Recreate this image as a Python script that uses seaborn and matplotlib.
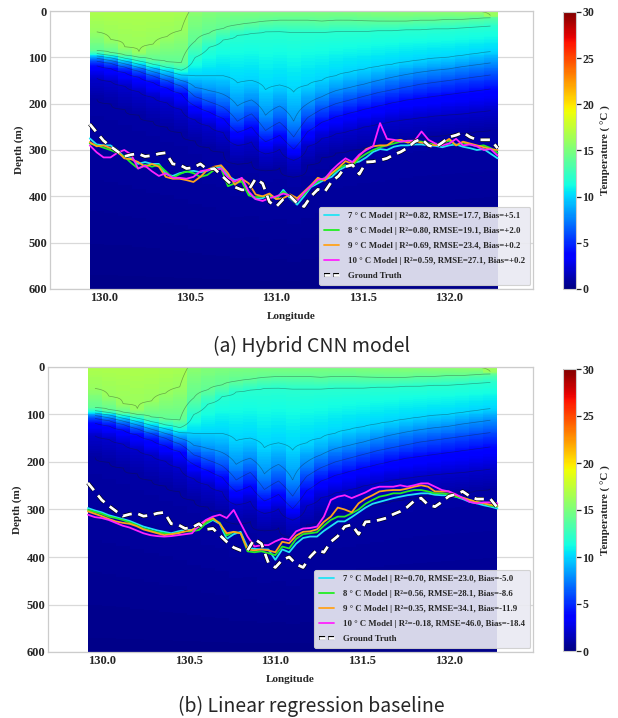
import numpy as np
import matplotlib
matplotlib.use("Agg")
import matplotlib.pyplot as plt
import matplotlib.patheffects as pe
from matplotlib.lines import Line2D
import seaborn as sns

# ---------------------------------------------------------------- data
# Longitudes of the profile positions along the section
lon = np.round(np.arange(129.92, 132.2801, 0.04), 2)

# Observed depth of the isotherm (m)
truth = [244, 262, 280, 292, 303, 314, 310, 308, 314, 312,
         308, 306, 330, 332, 340, 338, 330, 342, 340, 354,
         368, 380, 386, 386, 362, 372, 412, 422, 406, 400,
         415, 422, 400, 385, 390, 368, 356, 336, 332, 352,
         326, 325, 322, 318, 310, 304, 295, 282, 276, 290,
         294, 284, 272, 268, 262, 272, 278, 278, 278, 296]

# (a) Hybrid CNN predictions
cnn_7 = [275, 288, 290, 290, 300, 316, 318, 330, 326, 330,
         330, 352, 356, 350, 347, 345, 348, 345, 340, 336,
         356, 365, 362, 394, 406, 404, 396, 406, 386, 405,
         418, 400, 380, 372, 364, 358, 344, 336, 328, 325,
         316, 304, 298, 300, 293, 290, 290, 288, 288, 290,
         291, 294, 290, 288, 293, 296, 300, 298, 308, 318]
cnn_8 = [286, 290, 295, 300, 306, 314, 328, 340, 332, 336,
         332, 346, 360, 352, 346, 350, 358, 354, 343, 340,
         378, 372, 368, 398, 402, 400, 400, 404, 390, 400,
         408, 396, 378, 368, 360, 352, 340, 332, 334, 318,
         308, 300, 294, 290, 286, 282, 282, 280, 282, 286,
         288, 285, 280, 290, 284, 288, 292, 290, 296, 306]
cnn_9 = [283, 292, 290, 296, 303, 318, 320, 326, 336, 330,
         336, 358, 362, 362, 365, 369, 358, 343, 336, 333,
         350, 375, 362, 372, 396, 400, 394, 406, 404, 396,
         404, 390, 376, 360, 366, 350, 338, 324, 330, 312,
         298, 292, 290, 290, 280, 278, 284, 282, 284, 288,
         290, 286, 276, 290, 282, 286, 290, 294, 298, 300]
cnn_10 = [290, 305, 316, 316, 306, 300, 310, 340, 334, 346,
          356, 350, 360, 360, 362, 358, 346, 343, 343, 340,
          360, 368, 360, 390, 406, 410, 404, 400, 394, 398,
          410, 392, 378, 364, 362, 344, 330, 318, 326, 310,
          300, 292, 242, 276, 278, 282, 280, 280, 260, 278,
          286, 290, 286, 276, 290, 288, 292, 300, 298, 312]

# (b) Linear regression predictions
lr_7 = [297, 302, 306, 312, 316, 320, 324, 330, 336, 340,
        344, 347, 350, 346, 343, 343, 336, 330, 322, 330,
        362, 352, 347, 380, 383, 384, 384, 406, 384, 390,
        372, 360, 357, 357, 345, 335, 325, 325, 316, 306,
        296, 288, 284, 280, 276, 273, 270, 268, 266, 266,
        269, 270, 270, 273, 278, 284, 287, 291, 294, 298]
lr_8 = [301, 305, 309, 315, 318, 322, 327, 333, 340, 344,
        348, 350, 352, 349, 346, 346, 343, 329, 320, 328,
        355, 347, 350, 388, 390, 388, 392, 396, 378, 382,
        362, 352, 350, 348, 334, 322, 315, 315, 308, 300,
        288, 280, 273, 270, 266, 266, 262, 259, 259, 262,
        266, 266, 268, 273, 276, 280, 284, 287, 292, 294]
lr_9 = [304, 309, 314, 320, 325, 328, 330, 335, 342, 346,
        350, 354, 352, 350, 346, 343, 336, 324, 318, 330,
        350, 347, 350, 384, 386, 384, 386, 390, 368, 371,
        355, 347, 346, 342, 326, 315, 296, 300, 306, 287,
        277, 270, 262, 260, 259, 259, 256, 252, 249, 252,
        262, 262, 262, 270, 275, 280, 284, 287, 290, 292]
lr_10 = [311, 316, 318, 322, 328, 334, 338, 344, 350, 354,
         356, 357, 356, 354, 352, 350, 333, 322, 315, 311,
         318, 301, 329, 357, 378, 375, 375, 367, 361, 364,
         346, 340, 339, 336, 315, 280, 273, 270, 276, 270,
         264, 256, 252, 252, 252, 249, 252, 249, 245, 245,
         252, 259, 262, 268, 276, 284, 287, 285, 285, 287]

legend_cnn = ["7 ° C Model | R²=0.82, RMSE=17.7, Bias=+5.1",
              "8 ° C Model | R²=0.80, RMSE=19.1, Bias=+2.0",
              "9 ° C Model | R²=0.69, RMSE=23.4, Bias=+0.2",
              "10 ° C Model | R²=0.59, RMSE=27.1, Bias=+0.2"]
legend_lr = ["7 ° C Model | R²=0.70, RMSE=23.0, Bias=-5.0",
             "8 ° C Model | R²=0.56, RMSE=28.1, Bias=-8.6",
             "9 ° C Model | R²=0.35, RMSE=34.1, Bias=-11.9",
             "10 ° C Model | R²=-0.18, RMSE=46.0, Bias=-18.4"]
model_colors = ["#22e4f4", "#22ee22", "#ffa21c", "#ff22ff"]

# Temperature section: surface value and isotherm depths (m) at each CTD cast
sst = [16.8, 16.8, 16.8, 16.8, 16.8, 16.7, 16.6, 15.6, 15.3, 15.1,
       15.0, 15.0, 15.0, 15.0, 15.0, 15.0, 15.0, 15.0, 15.1, 15.2,
       15.3, 15.4, 15.5, 15.5, 15.6, 15.7, 15.8, 16.0, 16.3]
iso_levels = [16, 14, 12, 10, 8, 6, 4, 2, 1]
nan = np.nan
iso16 = [45, 62, 78, 88, 72, 55, 42, nan, nan, nan, nan, nan, nan, nan, nan,
         nan, nan, nan, nan, nan, nan, nan, nan, nan, nan, nan, nan, nan, 10]
iso14 = [85, 90, 95, 100, 105, 110, 112, 65, 48, 38, 30, 26, 22, 20, 20,
         20, 22, 20, 20, 21, 22, 22, 22, 20, 20, 18, 18, 16, 14]
iso12 = [92, 96, 102, 108, 115, 122, 128, 100, 78, 62, 52, 48, 45, 44, 46,
         46, 46, 44, 44, 44, 42, 42, 40, 40, 38, 38, 36, 34, 32]
iso10 = [97, 101, 108, 115, 123, 130, 138, 140, 140, 140, 155, 150, 170, 160, 175,
         160, 150, 140, 132, 126, 120, 115, 110, 106, 102, 100, 96, 92, 88]
iso8 = [102, 107, 114, 122, 131, 140, 150, 165, 172, 180, 205, 192, 225, 205, 238,
        200, 185, 172, 165, 158, 150, 143, 137, 132, 128, 125, 120, 116, 112]
iso6 = [108, 113, 121, 130, 140, 150, 162, 185, 196, 208, 238, 222, 258, 240, 272,
        230, 212, 200, 192, 184, 176, 170, 164, 158, 154, 150, 146, 142, 138]
iso4 = [118, 124, 133, 143, 154, 166, 178, 205, 218, 232, 262, 250, 282, 268, 298,
        260, 240, 228, 220, 212, 205, 198, 192, 188, 184, 180, 176, 172, 168]
iso2 = [145, 152, 162, 174, 186, 198, 212, 235, 248, 262, 290, 282, 308, 298, 322,
        292, 275, 265, 258, 250, 244, 238, 234, 230, 227, 224, 222, 218, 215]
iso1 = [190, 200, 212, 225, 238, 250, 262, 280, 295, 305, 330, 325, 345, 338, 358,
        332, 316, 306, 300, 294, 288, 282, 277, 273, 270, 267, 264, 260, 257]
bottom_temp = 0.3

# ---------------------------------------------------------------- field
iso_table = np.array([iso16, iso14, iso12, iso10, iso8, iso6, iso4, iso2, iso1], dtype=float)
cast_edges = np.linspace(lon[0], lon[-1], len(sst) + 1)
cast_lon = 0.5 * (cast_edges[:-1] + cast_edges[1:])
depth_edges = np.arange(0, 602, 2.0)
depth_mid = 0.5 * (depth_edges[:-1] + depth_edges[1:])

temp = np.empty((depth_mid.size, len(sst)))
for j, t0 in enumerate(sst):
    zs, ts = [0.0], [t0]
    for lev, d in zip(iso_levels, iso_table[:, j]):
        if np.isfinite(d) and lev < t0:
            zs.append(d)
            ts.append(lev)
    zs.append(600.0)
    ts.append(bottom_temp)
    temp[:, j] = np.interp(depth_mid, zs, ts)

# ---------------------------------------------------------------- style
sns.set_theme(style="whitegrid")
plt.rcParams["font.family"] = ["Liberation Serif", "DejaVu Serif"]
plt.rcParams["font.weight"] = "bold"
plt.rcParams["axes.labelweight"] = "bold"

fig = plt.figure(figsize=(6.18, 7.18), dpi=100)
W, H = 618.0, 718.0


def box(l, t, r, b):
    return [l / W, 1 - b / H, (r - l) / W, (b - t) / H]


panels = [
    dict(ax=box(50, 11, 533, 289), cax=box(563, 12, 576, 289),
         series=[cnn_7, cnn_8, cnn_9, cnn_10], labels=legend_cnn,
         caption="(a) Hybrid CNN model", cap_y=1 - 346 / H),
    dict(ax=box(48, 367, 533, 652), cax=box(563, 369, 576, 651),
         series=[lr_7, lr_8, lr_9, lr_10], labels=legend_lr,
         caption="(b) Linear regression baseline", cap_y=1 - 706 / H),
]

truth_effects = [pe.Stroke(linewidth=2.9, foreground="black"), pe.Normal()]

for p in panels:
    ax = fig.add_axes(p["ax"])
    cax = fig.add_axes(p["cax"])
    ax.set_axisbelow(True)
    ax.grid(axis="x", visible=False)
    ax.grid(axis="y", color="#d9d9d9", linewidth=0.9)

    mesh = ax.pcolormesh(cast_edges, depth_edges, temp, cmap="jet",
                         vmin=0, vmax=30, shading="flat", zorder=1)
    ax.contour(cast_lon, depth_mid, temp, levels=iso_levels[::-1],
               colors="k", linewidths=0.5, alpha=0.38, zorder=2)

    for vals, lab, col in zip(p["series"], p["labels"], model_colors):
        sns.lineplot(x=lon, y=vals, ax=ax, color=col, linewidth=1.3,
                     label=lab, sort=False, estimator=None, zorder=4)
    sns.lineplot(x=lon, y=truth, ax=ax, color="white", linewidth=2.0,
                 linestyle=(0, (3.4, 2.4)), label="Ground Truth",
                 sort=False, estimator=None, zorder=5,
                 path_effects=truth_effects)

    ax.set_xlim(129.69, 132.485)
    ax.set_ylim(600, 0)
    ax.set_xticks([130.0, 130.5, 131.0, 131.5, 132.0])
    ax.set_yticks(range(0, 601, 100))
    ax.tick_params(labelsize=9, pad=2, length=0)
    for t in ax.get_xticklabels() + ax.get_yticklabels():
        t.set_fontweight("bold")
    ax.set_xlabel("Longitude", fontsize=8, fontweight="bold", labelpad=6)
    ax.set_ylabel("Depth (m)", fontsize=8, fontweight="bold", labelpad=3)
    for s in ax.spines.values():
        s.set_color("#cccccc")
        s.set_linewidth(0.9)

    handles, labels = ax.get_legend_handles_labels()
    handles[-1] = Line2D([], [], color="white", linewidth=2.0,
                         linestyle=(0, (2.2, 1.1)), path_effects=truth_effects)
    leg = ax.legend(handles, labels, loc="lower right", bbox_to_anchor=(0.998, 0.008),
                    prop=dict(family=["Liberation Serif", "DejaVu Serif"], weight="bold", size=6.3),
                    frameon=True, fancybox=True, framealpha=0.92, facecolor="#eaeaf2",
                    edgecolor="#cfcfcf", borderpad=0.55, labelspacing=0.78,
                    handlelength=1.7, handletextpad=1.1, borderaxespad=0.2)
    leg.get_frame().set_linewidth(0.8)

    cb = fig.colorbar(mesh, cax=cax, ticks=range(0, 31, 5))
    cb.outline.set_edgecolor("#cccccc")
    cb.outline.set_linewidth(0.8)
    cax.tick_params(length=3.5, width=0.9, color="#222222", pad=1, labelsize=8.5,
                    right=True, labelright=True)
    for t in cax.get_yticklabels():
        t.set_fontweight("bold")
    cax.set_ylabel("Temperature ( °C )", fontsize=8, fontweight="bold", labelpad=5)

    fig.text(0.504, p["cap_y"], p["caption"], ha="center", va="center",
             fontsize=14, fontweight="light",
             family=["Noto Sans CJK KR", "DejaVu Sans"])

fig.savefig("out.png", dpi=100)
